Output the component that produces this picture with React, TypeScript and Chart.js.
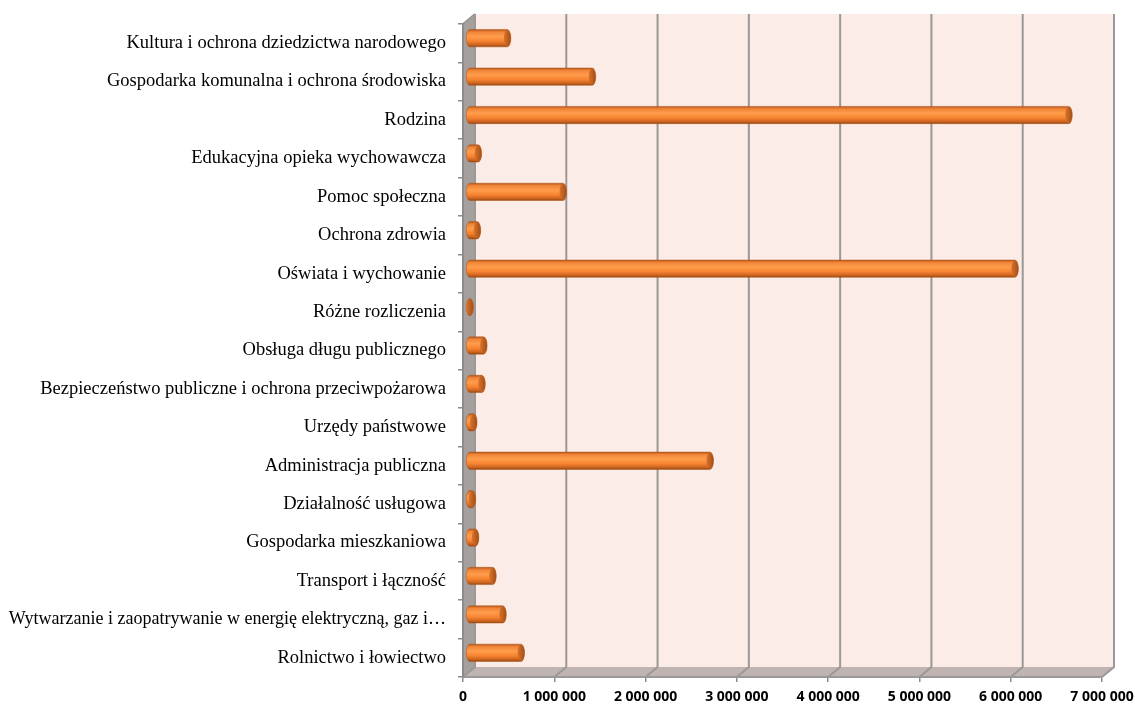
import React, { useEffect, useRef } from "react";
import { Chart, registerables } from "chart.js";

Chart.register(...registerables);

const categories: string[] = [
  "Kultura i ochrona dziedzictwa narodowego",
  "Gospodarka komunalna i ochrona środowiska",
  "Rodzina",
  "Edukacyjna opieka wychowawcza",
  "Pomoc społeczna",
  "Ochrona zdrowia",
  "Oświata i wychowanie",
  "Różne rozliczenia",
  "Obsługa długu publicznego",
  "Bezpieczeństwo publiczne i ochrona przeciwpożarowa",
  "Urzędy państwowe",
  "Administracja publiczna",
  "Działalność usługowa",
  "Gospodarka mieszkaniowa",
  "Transport i łączność",
  "Wytwarzanie i zaopatrywanie w energię elektryczną, gaz i…",
  "Rolnictwo i łowiectwo",
];

const values: number[] = [
  420000, 1350000, 6570000, 100000, 1030000, 90000, 5980000, 10000, 160000,
  140000, 50000, 2640000, 35000, 70000, 260000, 370000, 570000,
];

const xTickLabels: string[] = [
  "0",
  "1 000 000",
  "2 000 000",
  "3 000 000",
  "4 000 000",
  "5 000 000",
  "6 000 000",
  "7 000 000",
];

const DX = 12;
const DY = -10;

const wallPlugin = {
  id: "wall3d",
  beforeDraw(chart: any) {
    const { ctx, chartArea } = chart;
    const L = chartArea.left;
    const R = chartArea.right;
    const T = chartArea.top;
    const B = chartArea.bottom;
    const xs = chart.scales.x;
    ctx.save();
    ctx.fillStyle = "#fcece8";
    ctx.fillRect(L + DX, T + DY, R - L, B - T);
    ctx.fillStyle = "#bfb4b1";
    ctx.beginPath();
    ctx.moveTo(L, B);
    ctx.lineTo(R, B);
    ctx.lineTo(R + DX, B + DY);
    ctx.lineTo(L + DX, B + DY);
    ctx.closePath();
    ctx.fill();
    ctx.fillStyle = "#a59f9d";
    ctx.beginPath();
    ctx.moveTo(L, T);
    ctx.lineTo(L + DX, T + DY);
    ctx.lineTo(L + DX, B + DY);
    ctx.lineTo(L, B);
    ctx.closePath();
    ctx.fill();
    ctx.strokeStyle = "#9b9898";
    ctx.lineWidth = 2;
    xs.ticks.forEach((t: any) => {
      const x = xs.getPixelForValue(t.value);
      ctx.beginPath();
      ctx.moveTo(x + DX, T + DY);
      ctx.lineTo(x + DX, B + DY);
      ctx.lineTo(x, B);
      ctx.stroke();
    });
    ctx.beginPath();
    ctx.moveTo(L, T);
    ctx.lineTo(L + DX, T + DY);
    ctx.stroke();
    ctx.restore();
  },
  afterDatasetsDraw(chart: any) {
    const { ctx } = chart;
    const meta = chart.getDatasetMeta(0);
    ctx.save();
    ctx.translate(DX / 2, DY / 2);
    meta.data.forEach((el: any) => {
      const p = el.getProps(["x", "y", "base", "height"], true);
      const x0 = Math.min(p.base, p.x);
      const x1 = Math.max(p.base, p.x);
      const h = p.height;
      const yc = p.y;
      const top = yc - h / 2;
      const bot = yc + h / 2;
      const rx = 3.5;
      const g = ctx.createLinearGradient(0, top, 0, bot);
      g.addColorStop(0, "#b4581b");
      g.addColorStop(0.14, "#f08437");
      g.addColorStop(0.4, "#ff9d4d");
      g.addColorStop(0.68, "#f6822e");
      g.addColorStop(0.88, "#cc6421");
      g.addColorStop(1, "#97480f");
      ctx.beginPath();
      ctx.moveTo(x1, top);
      ctx.lineTo(x0, top);
      ctx.ellipse(x0, yc, rx, h / 2, 0, -Math.PI / 2, Math.PI / 2, true);
      ctx.lineTo(x1, bot);
      ctx.ellipse(x1, yc, rx, h / 2, 0, Math.PI / 2, -Math.PI / 2, true);
      ctx.closePath();
      ctx.fillStyle = g;
      ctx.fill();
      ctx.strokeStyle = "rgba(170,80,20,0.6)";
      ctx.lineWidth = 0.8;
      ctx.stroke();
      const cg = ctx.createLinearGradient(x1 - rx, 0, x1 + rx, 0);
      cg.addColorStop(0, "#d9732c");
      cg.addColorStop(1, "#a44f15");
      ctx.beginPath();
      ctx.ellipse(x1, yc, rx, h / 2 - 0.5, 0, 0, Math.PI * 2);
      ctx.fillStyle = cg;
      ctx.fill();
    });
    ctx.restore();
  },
};

export default function App() {
  const ref = useRef<HTMLCanvasElement | null>(null);
  useEffect(() => {
    if (!ref.current) return;
    const chart = new Chart(ref.current, {
      type: "bar",
      data: {
        labels: categories,
        datasets: [
          {
            data: values,
            backgroundColor: "rgba(0,0,0,0)",
            borderWidth: 0,
            barPercentage: 0.9,
            categoryPercentage: 0.5,
          },
        ],
      },
      options: {
        indexAxis: "y",
        animation: false,
        responsive: false,
        maintainAspectRatio: false,
        layout: { padding: { top: 24, right: 33, bottom: 0, left: 0 } },
        plugins: {
          legend: { display: false },
          tooltip: { enabled: false },
        },
        scales: {
          x: {
            min: 0,
            max: 7000000,
            afterFit: (s: any) => {
              s.height = 27;
              s.paddingLeft = 0;
              s.paddingRight = 0;
            },
            ticks: {
              stepSize: 1000000,
              autoSkip: false,
              maxRotation: 0,
              padding: 7,
              color: "#000",
              font: { family: "Open Sans", size: 14, weight: "bold" },
              callback: (_v: any, i: number) => xTickLabels[i],
            },
            grid: {
              drawOnChartArea: false,
              drawTicks: true,
              tickLength: 5,
              color: "#8e8a89",
              lineWidth: 1.5,
            },
            border: { display: true, color: "#9b9898", width: 2 },
          },
          y: {
            afterFit: (s: any) => {
              s.width = 463;
              s.paddingTop = 0;
              s.paddingBottom = 0;
            },
            ticks: {
              autoSkip: false,
              padding: 12,
              color: "#000",
              font: (c: any) => ({
                family: "Liberation Serif",
                size: c.index === 15 ? 18 : 18.5,
              }),
            },
            grid: {
              drawOnChartArea: false,
              drawTicks: true,
              tickLength: 5,
              color: "#8e8a89",
              lineWidth: 1.5,
            },
            border: { display: true, color: "#8f8a89", width: 2 },
          },
        },
      },
      plugins: [wallPlugin],
    });
    return () => chart.destroy();
  }, []);
  return (
    <div style={{ position: "absolute", left: 0, top: 0, width: 1135, height: 704 }}>
      <canvas ref={ref} width={1135} height={704} style={{ display: "block" }} />
    </div>
  );
}
